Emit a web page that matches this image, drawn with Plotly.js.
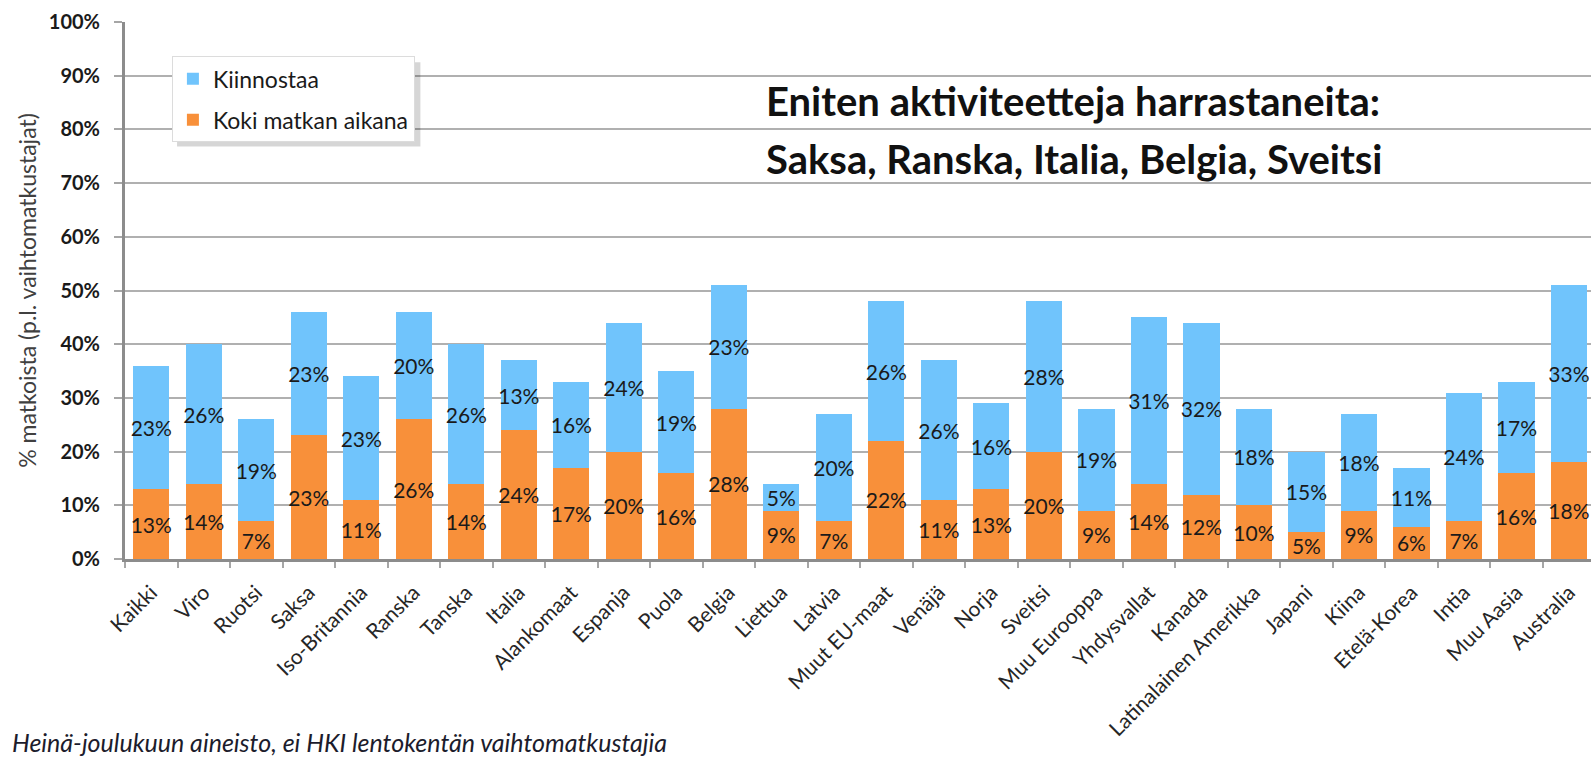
<!DOCTYPE html>
<html>
<head>
<meta charset="utf-8">
<script src="https://cdn.plot.ly/plotly-3.0.1.min.js"></script>
<style>
  html, body { margin: 0; padding: 0; background: #ffffff; }
  #chart { width: 1591px; height: 758px; }
</style>
</head>
<body>
<div id="chart"></div>
<script>
// Categories (destinations)
const categories = [
  "Kaikki", "Viro", "Ruotsi", "Saksa", "Iso-Britannia", "Ranska", "Tanska",
  "Italia", "Alankomaat", "Espanja", "Puola", "Belgia", "Liettua", "Latvia",
  "Muut EU-maat", "Venäjä", "Norja", "Sveitsi", "Muu Eurooppa", "Yhdysvallat",
  "Kanada", "Latinalainen Amerikka", "Japani", "Kiina", "Etelä-Korea", "Intia",
  "Muu Aasia", "Australia"
];

// % of trips: experienced during the trip (orange, bottom)
const kokiMatkanAikana = [13, 14, 7, 23, 11, 26, 14, 24, 17, 20, 16, 28, 9, 7,
  22, 11, 13, 20, 9, 14, 12, 10, 5, 9, 6, 7, 16, 18];

// % of trips: interested (blue, top)
const kiinnostaa = [23, 26, 19, 23, 23, 20, 26, 13, 16, 24, 19, 23, 5, 20,
  26, 26, 16, 28, 19, 31, 32, 18, 15, 18, 11, 24, 17, 33];

const yTicks = [0, 10, 20, 30, 40, 50, 60, 70, 80, 90, 100];

const FONT = "Lato, 'Open Sans', sans-serif";
const labelFont = { family: FONT, size: 21, color: "#1a1a1a" };

const traces = [
  {
    type: "bar",
    name: "Koki matkan aikana",
    legendgroup: "koki",
    legendrank: 2,
    x: categories,
    y: kokiMatkanAikana,
    marker: { color: "#f8903a" },
    text: kokiMatkanAikana.map(v => v + "%"),
    textposition: "inside",
    insidetextanchor: "middle",
    textangle: 0,
    constraintext: "none",
    textfont: labelFont,
    hoverinfo: "skip"
  },
  {
    type: "bar",
    name: "Kiinnostaa",
    legendgroup: "kiinnostaa",
    legendrank: 1,
    x: categories,
    y: kiinnostaa,
    marker: { color: "#70c4fc" },
    text: kiinnostaa.map(v => v + "%"),
    textposition: "inside",
    insidetextanchor: "middle",
    textangle: 0,
    constraintext: "none",
    textfont: labelFont,
    hoverinfo: "skip"
  }
];

const layout = {
  width: 1591,
  height: 758,
  paper_bgcolor: "#ffffff",
  plot_bgcolor: "#ffffff",
  barmode: "stack",
  bargap: 0.31,
  margin: { l: 125, r: 0, t: 22, b: 199, pad: 0 },
  font: { family: FONT, color: "#1a1a1a" },
  showlegend: true,
  legend: {
    x: 0.032, y: 0.936, xanchor: "left", yanchor: "top",
    bgcolor: "#ffffff",
    bordercolor: "#dcdcdc",
    borderwidth: 1,
    font: { family: FONT, size: 23, color: "#1a1a1a" },
    traceorder: "grouped",
    tracegroupgap: 8
  },
  shapes: [
    {
      // soft drop shadow behind the legend box
      type: "rect", xref: "paper", yref: "paper", layer: "above",
      x0: 0.0355, x1: 0.2015, y0: 0.768, y1: 0.925,
      fillcolor: "rgba(0,0,0,0.16)", line: { width: 0 }
    }
  ],
  xaxis: {
    type: "category",
    range: [-0.5, 27.42],
    tickson: "boundaries",
    ticks: "outside",
    ticklen: 6,
    tickwidth: 2,
    tickcolor: "#a6a6a6",
    tickangle: -45,
    ticklabelstandoff: 10,
    tickfont: { family: FONT, size: 21, color: "#262626" },
    showline: true,
    linecolor: "#8c8c8c",
    linewidth: 3,
    showgrid: false,
    zeroline: false,
    fixedrange: true
  },
  yaxis: {
    range: [0, 100],
    tickvals: yTicks,
    ticktext: yTicks.map(v => v + "%"),
    ticks: "outside",
    ticklen: 8,
    tickwidth: 2,
    tickcolor: "#a6a6a6",
    ticklabelstandoff: 10,
    tickfont: { family: FONT, size: 20, color: "#1a1a1a", weight: "bold" },
    showline: true,
    linecolor: "#8c8c8c",
    linewidth: 3,
    showgrid: true,
    gridcolor: "#b0b0b0",
    gridwidth: 2,
    zeroline: false,
    fixedrange: true,
    title: {
      text: "% matkoista (p.l. vaihtomatkustajat)",
      font: { family: FONT, size: 23, color: "#404040" },
      standoff: 6
    }
  },
  annotations: [
    {
      xref: "paper", yref: "paper",
      x: 0.436, y: 0.852, xanchor: "left", yanchor: "middle",
      text: "Eniten aktiviteetteja harrastaneita:",
      showarrow: false,
      font: { family: FONT, size: 40, color: "#111111", weight: "bold" }
    },
    {
      xref: "paper", yref: "paper",
      x: 0.436, y: 0.745, xanchor: "left", yanchor: "middle",
      text: "Saksa, Ranska, Italia, Belgia, Sveitsi",
      showarrow: false,
      font: { family: FONT, size: 40, color: "#111111", weight: "bold" }
    },
    {
      xref: "paper", yref: "paper",
      x: -0.0784, y: -0.341, xanchor: "left", yanchor: "middle",
      text: "Heinä-joulukuun aineisto, ei HKI lentokentän vaihtomatkustajia",
      showarrow: false,
      font: { family: FONT, size: 25, color: "#1c1c2c", style: "italic" }
    }
  ]
};

Plotly.newPlot("chart", traces, layout, { displayModeBar: false, staticPlot: true });
</script>
</body>
</html>
